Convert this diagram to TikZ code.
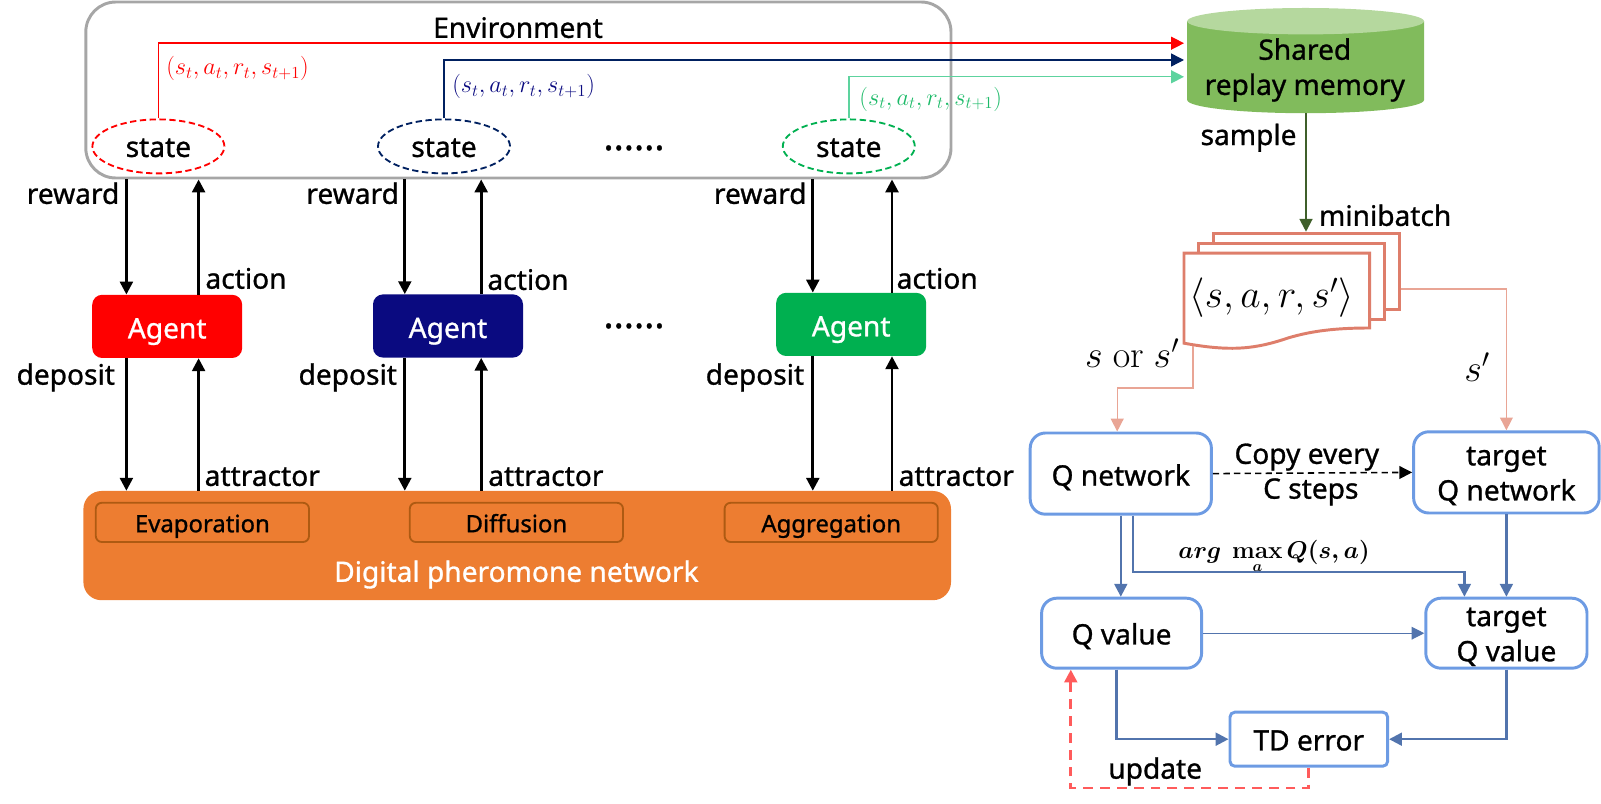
\documentclass[tikz,border=0pt]{standalone}
\usepackage[no-math]{fontspec}
\usepackage{amsmath,amssymb}
\usepackage{xcolor}
\setmainfont{Noto Sans}[FakeBold=1]
\usetikzlibrary{positioning,arrows.meta,shapes.geometric,calc}

\definecolor{envgray}{HTML}{A6A6A6}
\definecolor{navyagent}{HTML}{0A0A80}
\definecolor{navyline}{HTML}{002060}
\definecolor{greenagent}{HTML}{00B050}
\definecolor{greenline}{HTML}{5DD39E}
\definecolor{pheroorange}{HTML}{ED7D31}
\definecolor{pherodark}{HTML}{AE5A12}
\definecolor{memorybody}{HTML}{81BB5C}
\definecolor{memorytop}{HTML}{B5D89E}
\definecolor{sampleline}{HTML}{3F5F2A}
\definecolor{paperline}{HTML}{DE7E6B}
\definecolor{paperarrow}{HTML}{E9A595}
\definecolor{boxblue}{HTML}{6D9BE3}
\definecolor{arrowblue}{HTML}{5274AD}
\definecolor{updatered}{HTML}{FF5B5B}

\begin{document}
\begin{tikzpicture}[
    font=\fontsize{20}{25}\selectfont,
    onerow/.style={text height=17pt, text depth=3pt},
    envbox/.style={rounded corners=0.75cm, draw=envgray, line width=2.1pt, minimum width=21.63cm, minimum height=4.40cm},
    statenode/.style={ellipse, onerow, text height=18pt, dash pattern=on 4.5pt off 2.5pt, line width=1.3pt, minimum width=3.30cm, minimum height=1.35cm, inner sep=0pt},
    agent/.style={rounded corners=0.25cm, onerow, text height=20pt, text=white, minimum width=3.75cm, minimum height=1.58cm},
    pherobox/.style={rounded corners=0.45cm, fill=pheroorange, minimum width=21.69cm, minimum height=2.73cm},
    subbox/.style={rounded corners=0.15cm, onerow, font=\fontsize{17}{20}\selectfont, draw=pherodark, line width=1.3pt, minimum width=5.33cm, minimum height=0.98cm},
    paper/.style={draw=paperline, line width=2.1pt, fill=white, minimum width=4.65cm, minimum height=1.90cm},
    netbox/.style={rounded corners=0.38cm, draw=boxblue, line width=2.1pt},
    flow/.style={-{Triangle[length=0.32cm,width=0.32cm]}, line width=1.9pt},
    blueflow/.style={-{Triangle[length=0.32cm,width=0.32cm]}, line width=1.6pt, draw=arrowblue},
    thinflow/.style={-{Triangle[length=0.32cm,width=0.32cm]}, line width=1pt},
    elabel/.style={inner sep=0pt, onerow},
    twolines/.style={inner sep=0pt, align=center},
    dotlabel/.style={inner sep=0pt, font=\fontsize{27}{30}\selectfont},
    tuplelabel/.style={inner sep=0pt, font=\fontsize{17}{20}\selectfont},
    mathlabel/.style={inner sep=0pt, font=\fontsize{25}{30}\selectfont},
  ]
  \useasboundingbox (0,0) rectangle (40.025,-20.1);
  % left part
  \node[envbox] (env) at (12.96,-2.25) {};
  \node[elabel] (envlabel) at (12.95,-0.70) {Environment};
  \node[statenode, draw=red] (state1) at (3.96,-3.66) {state};
  \node[statenode, draw=navyline] (state2) at (11.10,-3.66) {state};
  \node[statenode, draw=greenagent] (state3) at (21.22,-3.66) {state};
  \node[dotlabel, anchor=base] (dots1) at (15.85,-3.75) {......};
  \node[agent, fill=red] (agent1) at (4.18,-8.16) {Agent};
  \node[agent, fill=navyagent] (agent2) at (11.20,-8.15) {Agent};
  \node[agent, fill=greenagent] (agent3) at (21.28,-8.11) {Agent};
  \node[dotlabel, anchor=base] (dots2) at (15.85,-8.20) {......};
  \node[pherobox] (phero) at (12.93,-13.64) {};
  \node[subbox] (evap) at (5.06,-13.06) {Evaporation};
  \node[subbox] (diff) at (12.91,-13.06) {Diffusion};
  \node[subbox] (aggr) at (20.78,-13.06) {Aggregation};
  \node[elabel, text=white] (pherolabel) at (12.91,-14.30) {Digital pheromone network};
  \coordinate (col1a) at (3.16,0);
  \coordinate (col1b) at (4.965,0);
  \coordinate (col2a) at (10.12,0);
  \coordinate (col2b) at (12.03,0);
  \coordinate (col3a) at (20.32,0);
  \coordinate (col3b) at (22.30,0);
  \draw[flow] (col1a |- env.south) -- (col1a |- agent1.north);
  \draw[flow] (col1b |- agent1.north) -- (col1b |- env.south);
  \draw[flow] (col2a |- env.south) -- (col2a |- agent2.north);
  \draw[flow] (col2b |- agent2.north) -- (col2b |- env.south);
  \draw[flow] (col3a |- env.south) -- (col3a |- agent3.north);
  \draw[flow] (col3b |- agent3.north) -- (col3b |- env.south);
  \draw[flow] (col1a |- agent1.south) -- (col1a |- phero.north);
  \draw[flow] (col1b |- phero.north) -- (col1b |- agent1.south);
  \draw[flow] (col2a |- agent2.south) -- (col2a |- phero.north);
  \draw[flow] (col2b |- phero.north) -- (col2b |- agent2.south);
  \draw[flow] (col3a |- agent3.south) -- (col3a |- phero.north);
  \draw[flow] (col3b |- phero.north) -- (col3b |- agent3.south);
  \node[elabel, anchor=east] (reward1) at (2.99,-4.85) {reward};
  \node[elabel, anchor=east] (reward2) at (9.98,-4.85) {reward};
  \node[elabel, anchor=east] (reward3) at (20.17,-4.85) {reward};
  \node[elabel, anchor=west] (action1) at (5.13,-6.97) {action};
  \node[elabel, anchor=west] (action2) at (12.18,-7.00) {action};
  \node[elabel, anchor=west] (action3) at (22.41,-6.97) {action};
  \node[elabel, anchor=east] (deposit1) at (2.88,-9.37) {deposit};
  \node[elabel, anchor=east] (deposit2) at (9.93,-9.37) {deposit};
  \node[elabel, anchor=east] (deposit3) at (20.11,-9.37) {deposit};
  \node[elabel, anchor=west] (attractor1) at (5.11,-11.90) {attractor};
  \node[elabel, anchor=west] (attractor2) at (12.20,-11.90) {attractor};
  \node[elabel, anchor=west] (attractor3) at (22.46,-11.90) {attractor};
  % replay memory
  \fill[memorybody] (29.68,-0.53) -- (29.68,-2.50) arc[start angle=180, end angle=360, x radius=2.96, y radius=0.33] -- (35.60,-0.53) -- cycle;
  \fill[memorytop] (32.64,-0.53) ellipse [x radius=2.96, y radius=0.33];
  \node[twolines] (replay) at (32.62,-1.75) {Shared\\replay memory};
  \coordinate (replayout) at (32.65,-2.83);
  \coordinate (inred) at (29.60,-1.08);
  \coordinate (inblue) at (29.60,-1.50);
  \coordinate (ingreen) at (29.60,-1.92);
  \draw[thinflow, draw=red] (state1.north) |- (inred);
  \draw[thinflow, draw=navyline] (state2.north) |- (inblue);
  \draw[thinflow, draw=greenline] (state3.north) |- (ingreen);
  \node[tuplelabel, text=red, anchor=west] (tuple1) at (4.15,-1.72) {$(s_t,a_t,r_t,s_{t+1})$};
  \node[tuplelabel, text=navyagent, anchor=west] (tuple2) at (11.30,-2.17) {$(s_t,a_t,r_t,s_{t+1})$};
  \node[tuplelabel, text=greenagent!70!greenline, anchor=west] (tuple3) at (21.48,-2.48) {$(s_t,a_t,r_t,s_{t+1})$};
  % minibatch
  \node[paper] (back) at (32.67,-6.78) {};
  \node[paper] (mid) at (32.29,-7.03) {};
  \draw[draw=paperline, line width=2.1pt, fill=white] (29.60,-6.33) -- (34.24,-6.33) -- (34.24,-8.20) .. controls (33.4,-8.20) and (32.8,-8.27) .. (32.2,-8.45) .. controls (31.4,-8.72) and (30.8,-8.80) .. (29.60,-8.58) -- cycle;
  \node[mathlabel] (front) at (31.79,-7.45) {\scalebox{1.13}{$\langle s,a,r,s'\rangle$}};
  \coordinate (frontout) at (29.82,-8.65);
  \coordinate (sbend) at (29.82,-9.70);
  \coordinate (argbend) at (36.61,-14.30);
  \draw[flow, line width=1.5pt, draw=sampleline] (replayout) -- (replayout |- back.north);
  \node[elabel, anchor=east] (samplelabel) at (32.42,-3.38) {sample};
  \node[elabel, anchor=west] (minibatch) at (32.97,-5.40) {minibatch};
  \node[mathlabel, anchor=east] (sors) at (29.49,-8.83) {\scalebox{1.09}{$s\ \mathrm{or}\ s'$}};
  \node[mathlabel] (sprime) at (36.93,-9.18) {\scalebox{1.09}{$s'$}};
  % network part
  \node[netbox, elabel, text height=20pt, minimum width=4.53cm, minimum height=2.03cm] (qnet) at (28.02,-11.84) {Q network};
  \node[netbox, minimum width=4.64cm, minimum height=2.03cm] (tqnet) at (37.66,-11.81) {};
  \node[twolines] (tqnetlabel) at (37.66,-11.90) {target\\Q network};
  \node[netbox, elabel, text height=19pt, minimum width=4.00cm, minimum height=1.75cm] (qval) at (28.04,-15.83) {Q value};
  \node[netbox, minimum width=4.03cm, minimum height=1.75cm] (tqval) at (37.66,-15.83) {};
  \node[twolines] (tqvallabel) at (37.66,-15.92) {target\\Q value};
  \node[netbox, elabel, text height=19pt, rounded corners=0.12cm, minimum width=3.94cm, minimum height=1.35cm] (td) at (32.72,-18.48) {TD error};
  \draw[thinflow, draw=paperarrow] (frontout) -- (sbend) -| ($(qnet.north)+(-0.09,0)$);
  \draw[thinflow, draw=paperarrow] ($(back.east)+(0,-0.45)$) -| (tqnet.north);
  \draw[thinflow, dash pattern=on 4.5pt off 3pt, line width=1.1pt] (qnet.east) -- (tqnet.west);
  \node[elabel] (copy) at (32.67,-11.35) {Copy every};
  \node[elabel] (csteps) at (32.77,-12.22) {C steps};
  \draw[blueflow] (qnet.south) -- (qnet.south |- qval.north);
  \draw[blueflow] ($(qnet.south)+(0.30,0)$) |- (argbend) -- (argbend |- tqval.north);
  \node[inner sep=0pt, font=\fontsize{16}{18}\selectfont] (argmax) at (31.85,-13.92) {$\displaystyle\boldsymbol{arg}\;\operatorname*{\mathbf{max}}_{\boldsymbol{a}}\boldsymbol{Q(s,a)}$};
  \draw[blueflow] (tqnet.south) -- (tqnet.south |- tqval.north);
  \draw[blueflow, line width=0.8pt] (qval.east) -- (tqval.west);
  \draw[blueflow] ($(qval.south)+(-0.13,0)$) |- (td.west);
  \draw[blueflow] (tqval.south) |- (td.east);
  \coordinate (updatecorner) at (26.77,-19.70);
  \draw[thinflow, dash pattern=on 7pt off 5pt, line width=2pt, draw=updatered] (td.south) |- (updatecorner) -- (updatecorner |- qval.south);
  \node[elabel] (update) at (28.88,-19.22) {update};
\end{tikzpicture}
\end{document}
